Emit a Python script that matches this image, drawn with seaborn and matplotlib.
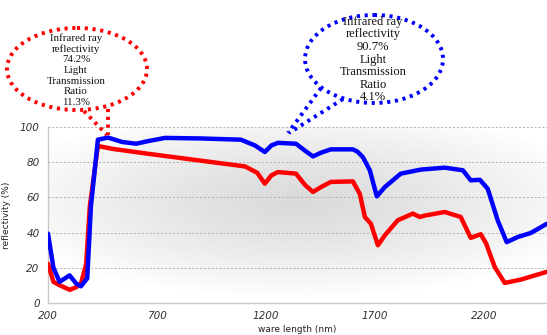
import matplotlib
matplotlib.use("Agg")
import matplotlib.pyplot as plt
import numpy as np
import pandas as pd
import seaborn as sns
from matplotlib.patches import Ellipse

# data
blue_nm = [200, 225, 253, 299, 330, 351, 380, 397, 429, 475, 540, 604, 660, 737,
           900, 1085, 1150, 1195, 1225, 1255, 1338, 1380, 1416, 1455, 1498,
           1599, 1620, 1645, 1677, 1709, 1746, 1819, 1911, 2021, 2104, 2140,
           2182, 2218, 2264, 2305, 2356, 2416, 2489]
blue_refl = [39.4, 20, 12, 15.7, 11, 9.5, 14, 55, 92.8, 94, 91.5, 90.5, 92, 93.8,
             93.5, 92.8, 89.5, 85.8, 89.5, 91, 90.5, 86.5, 83.3, 85.5, 87.3,
             87.3, 86, 82.9, 75.4, 60.6, 65.9, 73.5, 75.8, 76.9, 75.4, 69.7,
             70, 64.9, 46.9, 34.6, 37.5, 39.8, 45]

red_nm = [200, 225, 255, 300, 330, 351, 375, 392, 429, 500, 659, 856, 1104,
          1160, 1195, 1225, 1255, 1338, 1380, 1416, 1455, 1498, 1599, 1631,
          1654, 1682, 1714, 1746, 1805, 1874, 1906, 1934, 2021, 2094, 2140,
          2186, 2210, 2250, 2296, 2370, 2489]
red_refl = [22.3, 12, 10, 7.5, 9, 11, 22, 55, 89.2, 87.5, 84.8, 81.6, 77.6,
            74, 67.8, 72.5, 74.4, 73.5, 67, 63.1, 66, 68.8, 69.1, 62,
            48.9, 45, 32.8, 38.5, 47, 50.8, 48.9, 49.8, 51.7, 48.9, 37,
            39.1, 34, 20.5, 11.4, 13.3, 17.7]

x_ticks = [200, 700, 1200, 1700, 2200]
y_ticks = [0, 20, 40, 60, 80, 100]

red_lines = ["Infrared ray", "reflectivity", "74.2%", "Light",
             "Transmission", "Ratio", "11.3%"]
blue_lines = ["Infrared ray", "reflectivity", "90.7%", "Light",
              "Transmission", "Ratio", "4.1%"]

df = pd.concat([
    pd.DataFrame({"nm": red_nm, "refl": red_refl, "series": "red"}),
    pd.DataFrame({"nm": blue_nm, "refl": blue_refl, "series": "blue"}),
])

sns.set_style("white")

W, H = 547, 335
fig = plt.figure(figsize=(W / 100, H / 100), dpi=100)
ax = fig.add_axes([48 / W, 1 - 303 / H, 1 - 48 / W, (303 - 127) / H])

# soft radial grey gradient behind the plot
gx, gy = np.meshgrid(np.linspace(-1, 1, 300), np.linspace(-1, 1, 200))
r = np.sqrt((gx * 0.8) ** 2 + ((gy - 0.15) * 0.9) ** 2)
grad = 0.855 + 0.145 * np.clip(r, 0, 1) ** 1.3
ax.imshow(grad, cmap="gray", vmin=0, vmax=1, extent=[0, 1, 0, 1],
          transform=ax.transAxes, aspect="auto", zorder=0, origin="lower")

sns.lineplot(data=df, x="nm", y="refl", hue="series",
             palette={"red": "#ff0000", "blue": "#0000ff"},
             estimator=None, linewidth=3.2, legend=False, ax=ax, zorder=3)

ax.set_xlim(200, 2490)
ax.set_ylim(0, 100)
ax.set_xticks(x_ticks)
ax.set_yticks(y_ticks)
ax.grid(axis="y", linestyle=(0, (2, 2)), color="#b0b0b0", linewidth=0.7)
ax.set_axisbelow(False)
for s in ["top", "right"]:
    ax.spines[s].set_visible(False)
for s in ["left", "bottom"]:
    ax.spines[s].set_color("#c8c8c8")
    ax.spines[s].set_linewidth(1)
ax.tick_params(axis="both", length=0, labelsize=7.5, colors="#333333", pad=6)
for lab in ax.get_xticklabels() + ax.get_yticklabels():
    lab.set_fontstyle("italic")
ax.set_xlabel("ware length (nm)", fontsize=6.5, labelpad=3, color="#222222")
ax.set_ylabel("reflectivity (%)", fontsize=6.5, labelpad=6, color="#222222")

# overlay in pixel coordinates for the callouts
ov = fig.add_axes([0, 0, 1, 1])
ov.set_xlim(0, W)
ov.set_ylim(H, 0)
ov.axis("off")
ov.patch.set_alpha(0)

dots = (0, (0.8, 1.2))
ov.add_patch(Ellipse((77, 69), 140, 82, fill=False, edgecolor="#ff0000",
                     linewidth=2.8, linestyle=dots))
ov.plot([84, 107], [111, 135], color="#ff0000", lw=2.8, ls=dots)
ov.plot([108, 108], [109, 135], color="#ff0000", lw=2.8, ls=dots)
for i, line in enumerate(red_lines):
    ov.text(76, 38 + i * 10.8, line, ha="center", va="center", fontsize=7.8,
            family="Liberation Serif", color="#111111")

ov.add_patch(Ellipse((374, 59), 138, 88, fill=False, edgecolor="#0000ff",
                     linewidth=2.8, linestyle=dots))
ov.plot([321, 288], [88, 133], color="#0000ff", lw=2.8, ls=dots)
ov.plot([343, 289], [99, 133], color="#0000ff", lw=2.8, ls=dots)
for i, line in enumerate(blue_lines):
    ov.text(373, 22 + i * 12.5, line, ha="center", va="center", fontsize=9.0,
            family="Liberation Serif", color="#111111")

fig.savefig("out.png", dpi=100)
